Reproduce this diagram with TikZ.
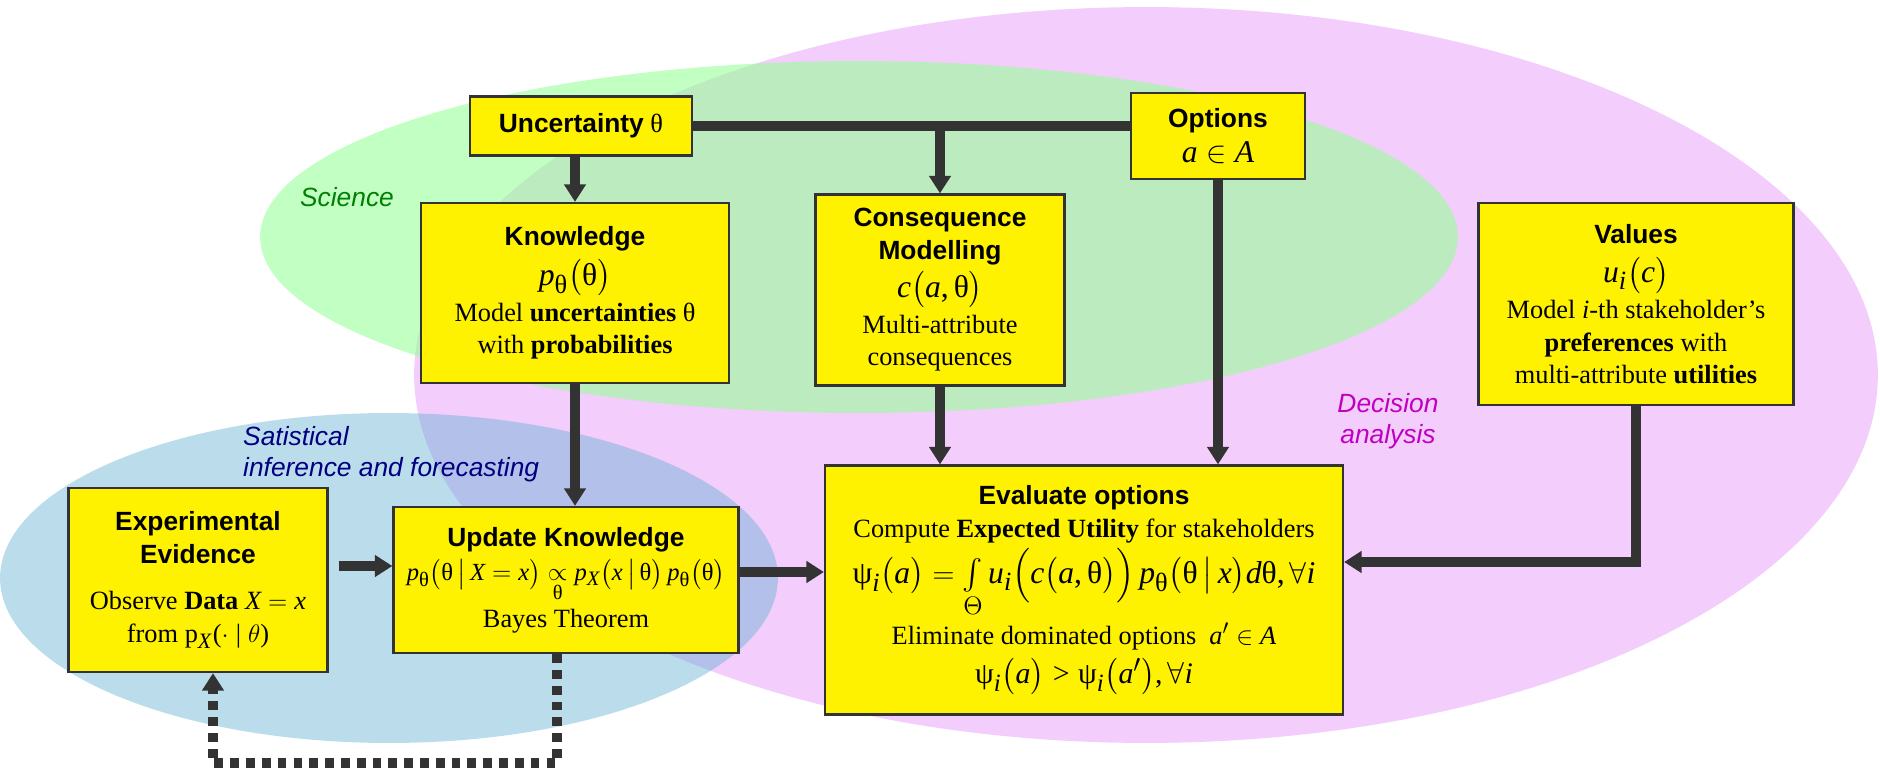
\documentclass[tikz,border=0pt]{standalone}
\usepackage{amsmath}
\usepackage{fontspec}
\setmainfont{Liberation Serif}
\newfontfamily\arialfont{Liberation Sans}
\usepackage[italic]{mathastext}
\usetikzlibrary{arrows.meta}
\definecolor{figPink}{RGB}{243,205,252}
\definecolor{figGreen}{RGB}{153,255,153}
\definecolor{figBlue}{RGB}{102,178,210}
\definecolor{figLine}{RGB}{51,51,51}
\definecolor{figNavy}{RGB}{0,0,128}
\definecolor{figSci}{RGB}{0,128,0}
\definecolor{figDec}{RGB}{192,0,192}
\newcommand{\hd}[1]{{\arialfont\bfseries #1}}
\newcommand{\thup}{\text{θ}}
\newcommand{\psup}{\text{ψ}}
\newcommand{\fml}{\fontsize{18}{22}\selectfont}

\begin{document}
\begin{tikzpicture}[x=0.02cm,y=-0.02cm,
  box/.style={draw=figLine,line width=1.3pt,fill=yellow,align=center,inner sep=2pt,font=\fontsize{15}{18.5}\selectfont},
  trunk/.style={draw=figLine,line width=5.5pt},
  flow/.style={trunk,-{Triangle[width=12pt,length=10pt]}},
  dotflow/.style={flow,dash pattern=on 5pt off 4pt},
  area/.style={font=\arialfont\itshape\fontsize{15}{18}\selectfont,align=left}]
\useasboundingbox (0,0) rectangle (1880,773);
\fill[figPink] (1146,375) ellipse [x radius=14.64cm, y radius=7.36cm];
\fill[figGreen,opacity=0.6] (859,237) ellipse [x radius=11.98cm, y radius=3.52cm];
\fill[figBlue,opacity=0.45] (389,578) ellipse [x radius=7.78cm, y radius=3.3cm];
\node[area,text=figSci] (sci) at (347,197) {Science};
\node[area,text=figNavy,anchor=west] (stat) at (237,454) {Satistical\\inference and forecasting};
\node[area,text=figDec,align=center] (dec) at (1388,421) {Decision\\analysis};

\node[box,minimum width=4.44cm,minimum height=1.18cm] (unc) at (581,126) {\hd{Uncertainty} θ};
\node[box,minimum width=3.48cm,minimum height=1.72cm] (opt) at (1218,136) {\hd{Options}\\[1pt]{\fml$a\in A$}};
\node[box,minimum width=6.16cm,minimum height=3.6cm] (know) at (575,293) {\hd{Knowledge}\\[4pt]{\fml$p_{\thup}\bigl(\thup\bigr)$}\\[2pt]Model \textbf{uncertainties} θ\\with \textbf{probabilities}};
\node[box,minimum width=4.98cm,minimum height=3.82cm] (cons) at (940,290) {\hd{Consequence}\\\hd{Modelling}\\[3pt]{\fml$c\bigl(a,\thup\bigr)$}\\[2pt]Multi-attribute\\consequences};
\node[box,minimum width=6.3cm,minimum height=4.04cm] (val) at (1636,304) {\hd{Values}\\[4pt]{\fml$u_i\bigl(c\bigr)$}\\[2pt]Model \textit{i}-th stakeholder’s\\\textbf{preferences} with\\multi-attribute \textbf{utilities}};
\node[box,minimum width=5.18cm,minimum height=3.68cm] (exp) at (198,580) {\hd{Experimental}\\\hd{Evidence}\\[8pt]Observe \textbf{Data} $X=x$\\from p\textsubscript{\textit{X}}($\cdot\mid\theta$)};
\node[box,minimum width=6.9cm,minimum height=2.92cm] (upd) at (566,580) {\hd{Update Knowledge}\\[1pt]{\fontsize{14}{17}\selectfont$p_{\thup}\bigl(\thup\,\big|\,X=x\bigr)\underset{\thup}{\propto}p_X\bigl(x\,\big|\,\thup\bigr)\,p_{\thup}\bigl(\thup\bigr)$}\\[3pt]Bayes Theorem};
\node[box,minimum width=10.36cm,minimum height=4.98cm] (eva) at (1084,590) {\hd{Evaluate options}\\Compute \textbf{Expected Utility} for stakeholders\\[2pt]{\fml$\psup_i\bigl(a\bigr)=\mathop{\textstyle\int}\limits_{\Theta}u_i\Bigl(c\bigl(a,\thup\bigr)\Bigr)\,p_{\thup}\bigl(\thup\,\big|\,x\bigr)d\thup,\forall i$}\\[2pt]Eliminate dominated options \ $a'\in A$\\[4pt]{\fontsize{17}{20}\selectfont$\psup_i\bigl(a\bigr)>\psup_i\bigl(a'\bigr),\forall i$}};

\draw[trunk] (unc.east) -- (unc.east -| opt.west);
\draw[flow] (unc.east -| cons.north) -- (cons.north);
\draw[flow] (unc.south -| know.north) -- (know.north);
\draw[flow] (opt.south) -- (opt.south |- eva.north);
\draw[flow] (cons.south) -- (cons.south |- eva.north);
\draw[flow] (know.south) -- (know.south |- upd.north);
\draw[flow] ([xshift=0.2cm,yshift=0.28cm]exp.east) -- ([yshift=0.28cm]upd.west);
\draw[flow] ([yshift=0.16cm]upd.east) -- ([yshift=0.16cm]upd.east -| eva.west);
\draw[flow] (val.south) |- ([yshift=0.56cm]eva.east);
\draw[dotflow] ([xshift=-0.18cm]upd.south) -- ++(0,-2.18cm) -| ([xshift=0.3cm]exp.south);
\end{tikzpicture}
\end{document}
